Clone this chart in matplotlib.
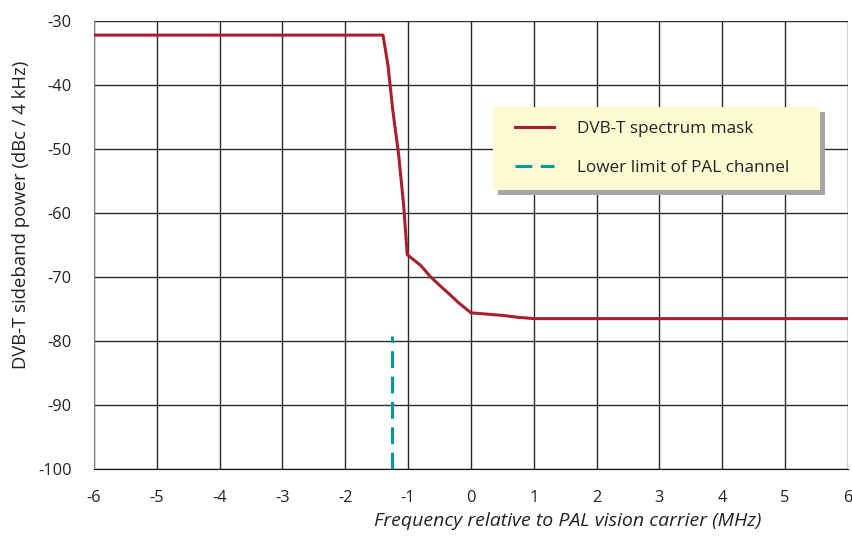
import matplotlib
matplotlib.use("Agg")
import matplotlib.pyplot as plt
from matplotlib.lines import Line2D
from matplotlib.legend_handler import HandlerLine2D

plt.rcParams['font.family'] = ['Open Sans', 'DejaVu Sans']

# Data
freq_mhz = [-6, -1.40, -1.32, -1.25, -1.15, -1.07, -1.015, -0.80, -0.65, -0.50,
            -0.33, -0.20, 0.0, 0.25, 0.50, 0.75, 1.0, 6]
mask_db = [-32.2, -32.2, -37.0, -43.5, -51.0, -59.0, -66.5, -68.2, -69.9, -71.3,
           -72.8, -74.0, -75.6, -75.8, -76.0, -76.3, -76.5, -76.5]
pal_x = [-1.25, -1.25]
pal_y = [-100, -79.2]

xticks = [-6, -5, -4, -3, -2, -1, 0, 1, 2, 3, 4, 5, 6]
yticks = [-100, -90, -80, -70, -60, -50, -40, -30]

red = '#A8202F'
teal = '#00999A'
txt = '#222222'

fig = plt.figure(figsize=(8.53, 5.43), dpi=100)
ax = fig.add_axes([0.1102, 0.1363, 0.8839, 0.825])

ax.plot(freq_mhz, mask_db, color=red, lw=2.2, label='DVB-T spectrum mask',
        solid_joinstyle='round', zorder=3)
ax.plot(pal_x, pal_y, color=teal, lw=2.2, dashes=(5.5, 2.8),
        label='Lower limit of PAL channel', zorder=3)

ax.set_xlim(-6, 6)
ax.set_ylim(-100, -30)
ax.set_xticks(xticks)
ax.set_yticks(yticks)
ax.set_xticklabels([str(v) for v in xticks])
ax.set_yticklabels([str(v) for v in yticks])
ax.tick_params(length=0, labelsize=11.8, colors=txt)
ax.tick_params(axis='x', pad=15)
ax.tick_params(axis='y', pad=16)
ax.grid(True, color='#2a2a2a', lw=1.0)
ax.set_axisbelow(True)
for s in ['top', 'right']:
    ax.spines[s].set_visible(False)
ax.spines['left'].set_color('#888888')
ax.spines['bottom'].set_color('#111111')

ax.set_ylabel('DVB-T sideband power (dBc / 4 kHz)', fontsize=13.3, color=txt)
ax.yaxis.set_label_coords(-0.085, 0.567)
ax.set_xlabel('Frequency relative to PAL vision carrier (MHz)', fontsize=14,
              color=txt, style='italic')
ax.xaxis.set_label_coords(0.628, -0.096)

hl = HandlerLine2D(xpad=0.486)
leg = ax.legend(loc='upper left', bbox_to_anchor=(0.529, 0.629, 0.434, 0.179),
                mode='expand', fontsize=12.3,
                frameon=True, facecolor='#FFFAD2', edgecolor='none', framealpha=1,
                fancybox=False, borderpad=0.8, handlelength=2.77,
                handletextpad=1.35, labelspacing=1.38, borderaxespad=0,
                handler_map={Line2D: hl},
                shadow={'ox': 3.6, 'oy': -3.6, 'facecolor': '#A6A6A6',
                        'edgecolor': 'none', 'alpha': 1})
for t in leg.get_texts():
    t.set_color(txt)

fig.savefig('out.png', dpi=100)
